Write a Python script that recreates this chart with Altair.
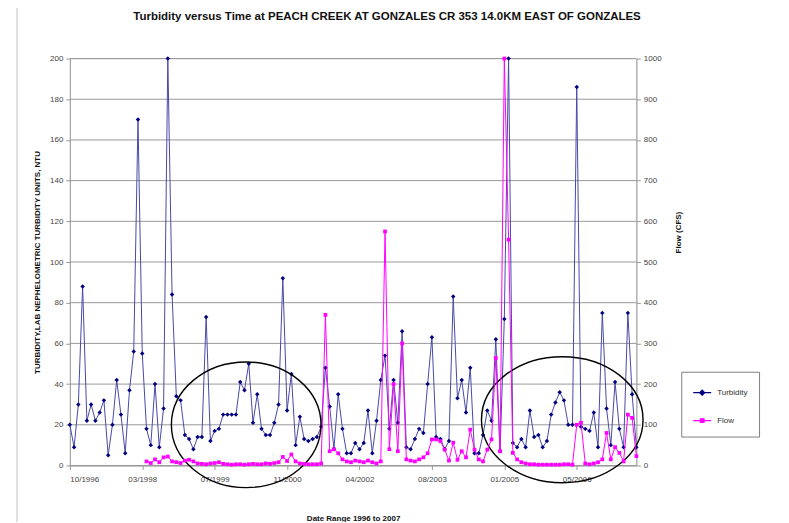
import altair as alt
import pandas as pd

TITLE = "Turbidity versus Time at PEACH CREEK AT GONZALES CR 353 14.0KM EAST OF GONZALES"
LEFT_TITLE = "TURBIDITY,LAB NEPHELOMETRIC TURBIDITY UNITS, NTU"
RIGHT_TITLE = "Flow (CFS)"
X_TITLE = "Date Range 1996 to 2007"

TICK_LABELS = ["10/1996", "03/1998", "07/1999", "11/2000", "04/2002", "08/2003", "01/2005", "05/2006"]
LABEL_STEP = 17
LEFT_TICKS = list(range(0, 201, 20))
RIGHT_TICKS = list(range(0, 1001, 100))

TURBIDITY = [
    20, 9, 30, 88, 22, 30, 22, 26, 32, 5,
    20, 42, 25, 6, 37, 56, 170, 55, 18, 10,
    40, 9, 28, 200, 84, 34, 32, 15, 13, 8,
    14, 14, 73, 12, 17, 18, 25, 25, 25, 25,
    41, 37, 50, 21, 35, 18, 15, 15, 21, 30,
    92, 27, 45, 10, 24, 13, 12, 13, 14, 19,
    48, 29, 8, 35, 18, 6, 6, 11, 8, 11,
    27, 6, 22, 42, 54, 18, 42, 21, 66, 9,
    8, 13, 18, 16, 40, 63, 14, 13, 8, 12,
    83, 33, 42, 26, 48, 6, 6, 15, 27, 22,
    62, 7, 72, 200, 11, 9, 13, 9, 27, 14,
    15, 9, 12, 25, 31, 36, 32, 20, 20, 186,
    19, 18, 17, 26, 9, 75, 28, 10, 41, 18,
    9, 75, 35, 9,
]

FLOW = [
    None, None, None, None, None, None, None, None, None, None,
    None, None, None, None, None, None, None, None, 10, 6,
    15, 8, 20, 22, 10, 8, 6, 12, 14, 10,
    5, 4, 3, 5, 6, 8, 4, 3, 2, 3,
    3, 2, 3, 4, 3, 3, 5, 4, 6, 8,
    21, 11, 27, 10, 5, 4, 3, 3, 3, 5,
    370, 35, 40, 30, 15, 10, 8, 12, 10, 8,
    12, 8, 5, 10, 575, 40, 200, 35, 300, 15,
    12, 10, 15, 20, 30, 64, 64, 60, 39, 12,
    56, 14, 35, 20, 88, 39, 15, 10, 39, 64,
    264, 35, 1000, 555, 31, 15, 8, 5, 3, 3,
    2, 2, 2, 2, 2, 2, 3, 3, 2, 100,
    105, 5, 3, 5, 8, 15, 80, 15, 45, 31,
    10, 125, 117, 23,
]

SERIES = ["Turbidity", "Flow"]
COLORS = ["#000080", "#FF00FF"]

# annotation ellipses (centre in data units)
ELLIPSE_IDX = [41.4, 115.6]
ELLIPSE_VAL = [20, 22.5]

FONT = "Liberation Sans"
n = len(TURBIDITY)
df = pd.DataFrame({"idx": list(range(n)), "Turbidity": TURBIDITY, "Flow": FLOW})


def ellipse_path(ry):
    k = 0.5523
    e = ry
    return (f"M -1 0 C -1 {-e*k:.4f} {-k:.4f} {-e:.4f} 0 {-e:.4f} "
            f"C {k:.4f} {-e:.4f} 1 {-e*k:.4f} 1 0 "
            f"C 1 {e*k:.4f} {k:.4f} {e:.4f} 0 {e:.4f} "
            f"C {-k:.4f} {e:.4f} -1 {e*k:.4f} -1 0 Z")


label_arr = "[" + ",".join(f"'{t}'" for t in TICK_LABELS) + "]"
x_scale = alt.Scale(domain=[0, n - 1], nice=False, zero=False)
x_axis = alt.Axis(
    values=[i * LABEL_STEP for i in range(len(TICK_LABELS))],
    labelExpr=f"{label_arr}[round(datum.value/{LABEL_STEP})]",
    title=X_TITLE, titleFont=FONT, titleFontSize=8, titleFontWeight="bold",
    titleColor="#111", titlePadding=31,
    labelFont=FONT, labelFontSize=8, labelColor="#444", labelPadding=6,
    grid=False, ticks=True, tickSize=4, tickColor="#999", domainColor="#999",
)
X = alt.X("idx:Q", scale=x_scale, axis=x_axis, title=X_TITLE)

y1 = alt.Scale(domain=[0, 200], nice=False)
left_axis = alt.Axis(
    orient="left", values=LEFT_TICKS, grid=False,
    tickSize=4, tickColor="#999", domainColor="#999",
    labelFont=FONT, labelFontSize=8, labelColor="#444", labelPadding=3,
    title=LEFT_TITLE, titleFont=FONT, titleFontSize=8, titleFontWeight="bold",
    titleColor="#111", titlePadding=8, titleY=204,
)
y2 = alt.Scale(domain=[0, 1000], nice=False)
right_axis = alt.Axis(
    orient="right", values=RIGHT_TICKS, grid=False, format="d",
    tickSize=4, tickColor="#999", domainColor="#999",
    labelFont=FONT, labelFontSize=8, labelColor="#444", labelPadding=3,
    title=RIGHT_TITLE, titleFont=FONT, titleFontSize=8, titleFontWeight="bold",
    titleColor="#111", titlePadding=21, titleAngle=270, titleY=174,
)

Y1 = alt.Y("Turbidity:Q", scale=y1, axis=left_axis, title=LEFT_TITLE)
Y2 = alt.Y("Flow:Q", scale=y2, axis=right_axis, title=RIGHT_TITLE)

base = alt.Chart(df)

grid_df = pd.DataFrame({"Turbidity": LEFT_TICKS})
grid = alt.Chart(grid_df).mark_rule(color="#999999", strokeWidth=1).encode(y=Y1)

# chart-area border (left and top edges visible in the crop)
border_left = alt.Chart(grid_df.iloc[[0]]).mark_rule(color="#c4c4c4", strokeWidth=1, clip=False).encode(
    x=alt.value(-53), y=alt.value(-53), y2=alt.value(470))
border_top = alt.Chart(grid_df.iloc[[0]]).mark_rule(color="#c4c4c4", strokeWidth=1, clip=False).encode(
    x=alt.value(-53), x2=alt.value(719), y=alt.value(-53))

turb_line = base.mark_line(color="#4848a8", strokeWidth=1).encode(x=X, y=Y1)
turb_pts = base.mark_point(shape="diamond", filled=True, size=20, color="#000080", opacity=1).encode(x=X, y=Y1)

ell_df = pd.DataFrame({"idx": ELLIPSE_IDX, "Turbidity": ELLIPSE_VAL})
ell1 = alt.Chart(ell_df.iloc[[0]]).mark_point(
    shape=ellipse_path(0.84), size=150 ** 2, filled=False, stroke="black",
    strokeWidth=1.4, opacity=1, clip=False,
).encode(x=X, y=Y1)
ell2 = alt.Chart(ell_df.iloc[[1]]).mark_point(
    shape=ellipse_path(0.78), size=162 ** 2, filled=False, stroke="black",
    strokeWidth=1.4, opacity=1, clip=False,
).encode(x=X, y=Y1)

# legend-only layer
SHAPES = [
    "M -1 0 L 1 0 M 0 -0.28 L 0.28 0 L 0 0.28 L -0.28 0 Z",
    "M -1 0 L 1 0 M -0.2 -0.2 L 0.2 -0.2 L 0.2 0.2 L -0.2 0.2 Z",
]
leg = alt.Legend(
    title=None, orient="none", legendX=613, legendY=314, padding=11, rowPadding=13,
    symbolSize=324, symbolStrokeWidth=1.2, labelFont=FONT, labelFontSize=8,
    labelColor="#333", labelOffset=5, strokeColor="#808080", fillColor="white",
)
cscale = alt.Scale(domain=SERIES, range=COLORS)
legend_layer = alt.Chart(pd.DataFrame({"series": SERIES})).mark_point(opacity=1).encode(
    fill=alt.Fill("series:N", scale=cscale, legend=leg),
    stroke=alt.Stroke("series:N", scale=cscale, legend=leg),
    shape=alt.Shape("series:N", scale=alt.Scale(domain=SERIES, range=SHAPES), legend=leg),
).transform_filter("false")

flow_line = base.mark_line(color="#FF00FF", strokeWidth=1).encode(x=X, y=Y2)
flow_pts = base.mark_point(shape="square", filled=True, size=14, color="#FF00FF", opacity=1).encode(x=X, y=Y2)

left = alt.layer(grid, border_left, border_top, turb_line, turb_pts, ell1, ell2, legend_layer)
right = alt.layer(flow_line, flow_pts)

chart = alt.layer(left, right).resolve_scale(
    y="independent", fill="independent", stroke="independent", shape="independent"
).properties(
    width=568, height=408,
    autosize=alt.AutoSizeParams(type="none"),
    padding={"left": 62, "top": 50, "right": 145, "bottom": 56},
    title=alt.TitleParams(TITLE, font=FONT, fontSize=11.5, fontWeight="bold",
                          color="#111", offset=-17.5, dx=34, anchor="middle"),
).configure_view(stroke=None).configure(background="white")

chart.save("out.html", embed_options={"renderer": "svg", "actions": False})
